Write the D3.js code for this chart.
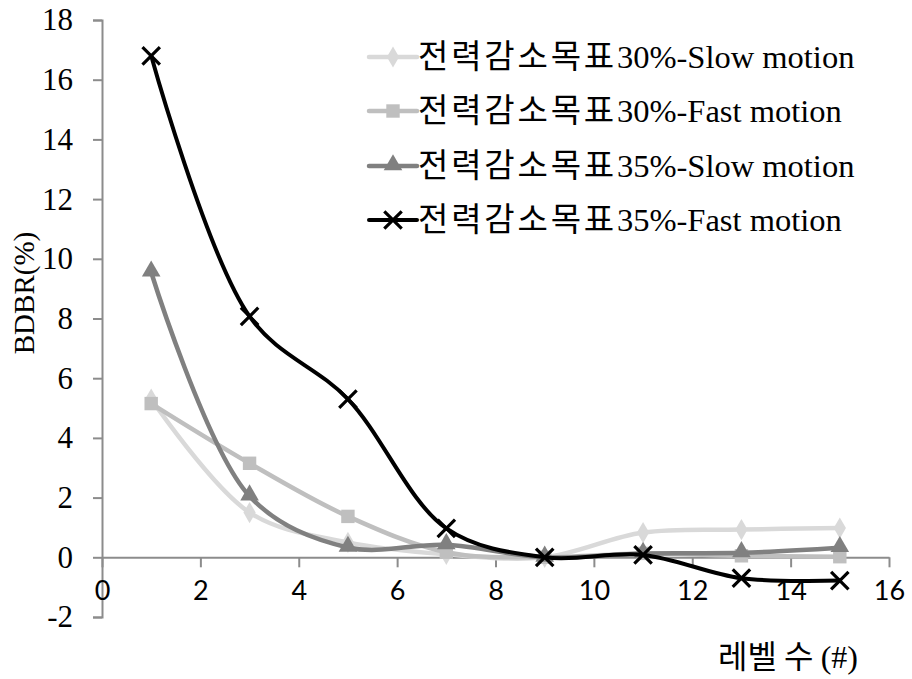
<!DOCTYPE html>
<html><head><meta charset="utf-8">
<script src="https://cdn.jsdelivr.net/npm/d3@7"></script>
<style>body{margin:0;background:#fff}svg{display:block}</style>
</head><body>
<svg id="c" width="912" height="679"></svg>
<script>
const levels = [1, 3, 5, 7, 9, 11, 13, 15];
const seriesNames = [
  "전력감소목표30%-Slow motion",
  "전력감소목표30%-Fast motion",
  "전력감소목표35%-Slow motion",
  "전력감소목표35%-Fast motion"
];
const s30Slow = [5.3, 1.5, 0.5, 0.1, 0.0, 0.83, 0.93, 0.98];
const s30Fast = [5.15, 3.15, 1.37, 0.17, 0.0, 0.13, 0.05, 0.02];
const s35Slow = [9.55, 2.05, 0.33, 0.42, 0.0, 0.13, 0.15, 0.32];
const s35Fast = [16.8, 8.07, 5.3, 0.97, 0.0, 0.08, -0.7, -0.78];
const xTicks = [0, 2, 4, 6, 8, 10, 12, 14, 16];
const yTicks = [-2, 0, 2, 4, 6, 8, 10, 12, 14, 16, 18];

const colors = ["#d9d9d9", "#bfbfbf", "#808080", "#000000"];
const markers = ["diamond", "square", "triangle", "x"];
const allSeries = [s30Slow, s30Fast, s35Slow, s35Fast];

const SERIF = "'Liberation Serif', 'Times New Roman', serif";
const KR = "'Noto Sans CJK KR', sans-serif";

const svg = d3.select("#c");
const x = d3.scaleLinear().domain([0, 16]).range([102, 889]);
const y = d3.scaleLinear().domain([-2, 18]).range([617, 20]);
const axisColor = "#8c8c8c";

// Y axis
const ya = svg.append("g").attr("transform", `translate(${x(0)},0)`)
  .call(d3.axisLeft(y).tickValues(yTicks).tickSize(9).tickPadding(20).tickFormat(d => String(d)));
ya.attr("font-family", null).attr("font-size", null);
ya.select(".domain").attr("stroke", axisColor).attr("stroke-width", 2);
ya.selectAll(".tick line").attr("stroke", axisColor).attr("stroke-width", 2);
ya.selectAll(".tick text").style("font-family", SERIF).style("font-size", "31px").attr("fill", "#000");

// X axis at y=0
const xa = svg.append("g").attr("transform", `translate(0,${y(0)})`)
  .call(d3.axisBottom(x).tickValues(xTicks).tickSize(10).tickSizeOuter(0).tickPadding(14).tickFormat(d => String(d)));
xa.attr("font-family", null).attr("font-size", null);
xa.select(".domain").attr("stroke", axisColor).attr("stroke-width", 2);
xa.selectAll(".tick line").attr("stroke", axisColor).attr("stroke-width", 2);
xa.selectAll(".tick text").style("font-family", "Lato, sans-serif").style("font-size", "27px").attr("fill", "#000");

// Axis titles
svg.append("text").attr("transform", `translate(34,${293}) rotate(-90)`)
  .attr("text-anchor", "middle").style("font-family", SERIF).style("font-size", "29px").text("BDBR(%)");
const xt = svg.append("text").attr("x", 858).attr("y", 668).attr("text-anchor", "end");
xt.append("tspan").style("font-family", KR).style("font-size", "32px").text("레벨 수 ");
xt.append("tspan").style("font-family", SERIF).style("font-size", "32px").text("(#)");

function drawMarker(g, type, color, cx, cy) {
  if (type === "diamond") {
    g.append("path").attr("d", d3.symbol(d3.symbolDiamond, 130)()).attr("transform", `translate(${cx},${cy})`).attr("fill", color);
  } else if (type === "square") {
    g.append("path").attr("d", d3.symbol(d3.symbolSquare, 180)()).attr("transform", `translate(${cx},${cy})`).attr("fill", color);
  } else if (type === "triangle") {
    g.append("path").attr("d", d3.symbol(d3.symbolTriangle, 150)()).attr("transform", `translate(${cx},${cy - 1})`).attr("fill", color);
  } else {
    g.append("path").attr("d", d3.symbol(d3.symbolTimes, 200)()).attr("transform", `translate(${cx},${cy})`).attr("fill", "none").attr("stroke", color).attr("stroke-width", 3.2);
  }
}

const line = d3.line().x(d => x(d[0])).y(d => y(d[1])).curve(d3.curveCatmullRom.alpha(0.5));

allSeries.forEach((vals, i) => {
  const pts = levels.map((l, j) => [l, vals[j]]);
  const g = svg.append("g");
  g.append("path").datum(pts).attr("d", line).attr("fill", "none")
    .attr("stroke", colors[i]).attr("stroke-width", i === 3 ? 4 : 4.5).attr("stroke-linejoin", "round");
  pts.forEach(p => drawMarker(g, markers[i], colors[i], x(p[0]), y(p[1])));
});

// Legend
const legY = [57, 111, 166, 220];
seriesNames.forEach((name, i) => {
  const g = svg.append("g");
  g.append("line").attr("x1", 369).attr("x2", 417).attr("y1", legY[i]).attr("y2", legY[i])
    .attr("stroke", colors[i]).attr("stroke-width", i === 3 ? 4 : 4.5).attr("stroke-linecap", "round");
  drawMarker(g, markers[i], colors[i], 393, legY[i]);
  const t = g.append("text").attr("x", 418).attr("y", legY[i] + 11);
  const m = name.match(/^([^0-9]+)(.*)$/);
  t.append("tspan").style("font-family", KR).style("font-size", "33px").style("letter-spacing", "2.8px").text(m[1]);
  t.append("tspan").style("font-family", SERIF).style("font-size", "32.5px").text(m[2]);
});
</script>
</body></html>
